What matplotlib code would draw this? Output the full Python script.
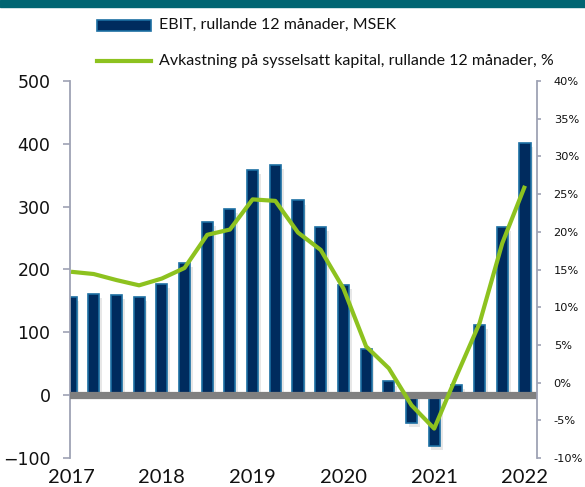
import matplotlib
matplotlib.use("Agg")
import matplotlib.pyplot as plt
import matplotlib.patheffects as pe
from matplotlib.patches import Rectangle
from matplotlib.lines import Line2D
from matplotlib.ticker import FuncFormatter

# ---- data ----
quarters = [2017 + i * 0.25 for i in range(21)]
ebit = [156, 161, 159, 156, 177, 210, 276, 296, 359, 367, 310,
        268, 175, 74, 22, -44, -81, 16, 112, 268, 401]
roce = [14.7, 14.4, 13.6, 12.9, 13.8, 15.2, 19.6, 20.3, 24.3, 24.1, 19.9,
        17.6, 12.5, 4.8, 1.9, -3.0, -6.1, 1.0, 7.9, 18.5, 26.1]
year_ticks = [2017, 2018, 2019, 2020, 2021, 2022]
left_ticks = [-100, 0, 100, 200, 300, 400, 500]
right_ticks = [-10, -5, 0, 5, 10, 15, 20, 25, 30, 35, 40]
label_ebit = "EBIT, rullande 12 månader, MSEK"
label_roce = "Avkastning på sysselsatt kapital, rullande 12 månader, %"

W, H = 585, 487
fig = plt.figure(figsize=(W / 100, H / 100), dpi=100)
ax_l, ax_r = 70 / W, 537 / W
ax_b, ax_t = 1 - 458 / H, 1 - 81 / H
ax = fig.add_axes([ax_l, ax_b, ax_r - ax_l, ax_t - ax_b])

navy = "#002B5E"
edge = "#1C6FA3"
green = "#8DC21F"
spine_c = "#9EA2B4"

bars = ax.bar(quarters, ebit, width=0.122, color=navy, edgecolor=edge,
              linewidth=1.2, zorder=2)
for b in bars:
    b.set_path_effects([pe.SimplePatchShadow(offset=(2, -3), shadow_rgbFace="#a0a0a0", alpha=0.25),
                        pe.Normal()])
ax.axhline(0, color="#808080", linewidth=5.2, zorder=3)

ax.set_xlim(2016.989, 2016.989 + 467 / 90.8)
ax.set_ylim(-100, 500)
ax.set_yticks(left_ticks)
ax.set_xticks(year_ticks)
ax.set_xticklabels([str(y) for y in year_ticks], fontfamily="Lato", fontsize=14.5, color="#111111")
ax.tick_params(axis="x", length=0, pad=8)
ax.tick_params(axis="y", length=5, width=1.2, color=spine_c, pad=9,
               labelsize=12.5, labelcolor="#111111")
for s in ["top", "right", "bottom"]:
    ax.spines[s].set_visible(False)
ax.spines["left"].set_color(spine_c)
ax.spines["left"].set_linewidth(1.3)
ax.patch.set_visible(False)

ax2 = ax.twinx()
ax2.plot(quarters, roce, color=green, linewidth=3.0, zorder=5, solid_capstyle="butt")
ax2.set_ylim(-10, 40)
ax2.set_yticks(right_ticks)
ax2.yaxis.set_major_formatter(FuncFormatter(lambda v, p: f"{int(v)}%"))
ax2.tick_params(axis="y", length=3, width=1.2, color=spine_c, pad=9,
                labelsize=8.2, labelcolor="#111111")
for s in ["top", "left", "bottom"]:
    ax2.spines[s].set_visible(False)
ax2.spines["right"].set_color(spine_c)
ax2.spines["right"].set_linewidth(1.3)

# top band
fig.patches.append(Rectangle((0, 1 - 7 / H), 1, 7 / H, transform=fig.transFigure,
                             color="#006572", zorder=10))

# legend
fig.patches.append(Rectangle((97 / W, 1 - 31 / H), 54 / W, 11 / H, transform=fig.transFigure,
                             facecolor=navy, edgecolor=edge, linewidth=1.2))
fig.text(159 / W, 1 - 24.5 / H, label_ebit, fontfamily="Lato", fontsize=11.5,
         va="center", ha="left", color="#111111")
fig.lines.append(Line2D([97 / W, 151 / W], [1 - 61 / H, 1 - 61 / H], transform=fig.transFigure,
                        color=green, linewidth=3.0))
fig.text(159 / W, 1 - 61 / H, label_roce, fontfamily="Lato", fontsize=11.5,
         va="center", ha="left", color="#111111")

fig.savefig("out.png", dpi=100)
